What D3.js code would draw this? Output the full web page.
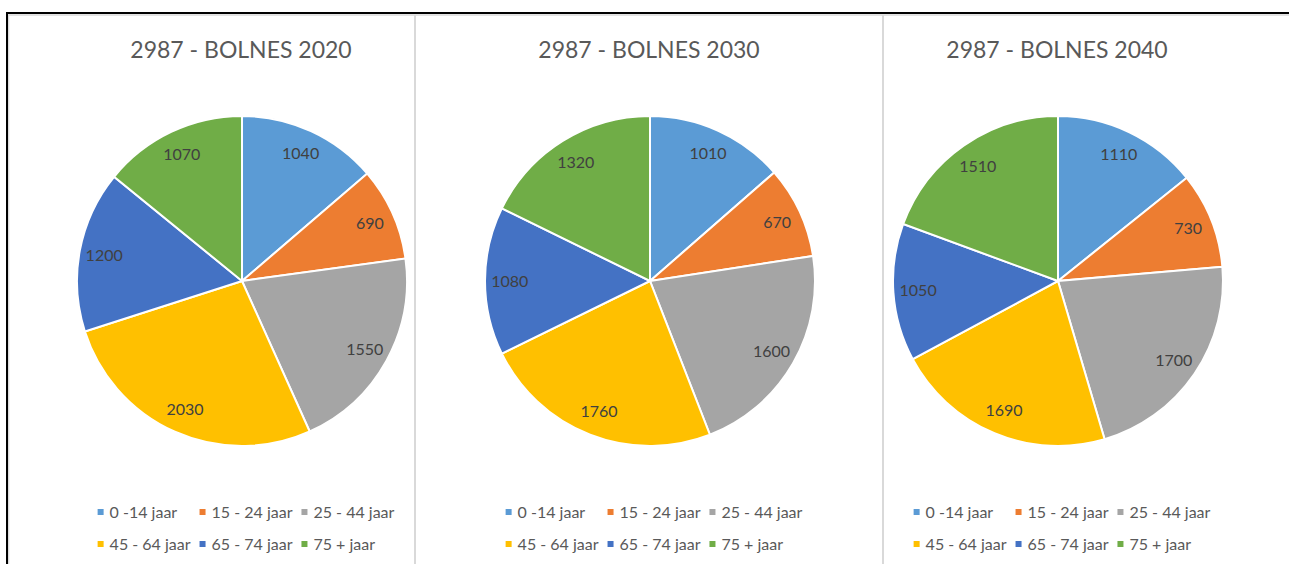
<!DOCTYPE html>
<html>
<head>
<meta charset="utf-8">
<script src="https://cdn.jsdelivr.net/npm/d3@7"></script>
<style>
  body { margin: 0; background: #fff; }
  svg { display: block; font-family: Lato, "Open Sans", sans-serif; }
</style>
</head>
<body>
<svg id="chart" width="1289" height="564"></svg>
<script>
const categories = ['0 -14 jaar', '15 - 24 jaar', '25 - 44 jaar', '45 - 64 jaar', '65 - 74 jaar', '75 + jaar'];
const titles = ['2987 - BOLNES 2020', '2987 - BOLNES 2030', '2987 - BOLNES 2040'];
const values2020 = [1040, 690, 1550, 2030, 1200, 1070];
const values2030 = [1010, 670, 1600, 1760, 1080, 1320];
const values2040 = [1110, 730, 1700, 1690, 1050, 1510];
const colors = ['#5b9bd5', '#ed7d31', '#a5a5a5', '#ffc000', '#4472c4', '#70ad47'];

const series = [values2020, values2030, values2040];

const width = 1289, height = 564;
const radius = 165;
const svg = d3.select('#chart');

// panel centres along x
const x = d3.scalePoint()
  .domain(titles)
  .range([242, 1058]);

const color = d3.scaleOrdinal()
  .domain(categories)
  .range(colors);

// frame lines (sheet borders / panel separators)
svg.append('line').attr('x1', 6).attr('x2', width).attr('y1', 13).attr('y2', 13)
  .attr('stroke', '#000').attr('stroke-width', 2);
svg.append('line').attr('x1', 8).attr('x2', width).attr('y1', 15).attr('y2', 15)
  .attr('stroke', '#d9d9d9').attr('stroke-width', 1.5);
svg.append('line').attr('x1', 7).attr('x2', 7).attr('y1', 12).attr('y2', height)
  .attr('stroke', '#000').attr('stroke-width', 2);
svg.append('line').attr('x1', 8.7).attr('x2', 8.7).attr('y1', 15).attr('y2', height)
  .attr('stroke', '#d9d9d9').attr('stroke-width', 1.2);
[415, 883].forEach(sx => {
  svg.append('line').attr('x1', sx).attr('x2', sx).attr('y1', 15).attr('y2', height)
    .attr('stroke', '#d9d9d9').attr('stroke-width', 2);
});

const pie = d3.pie().sort(null).value(d => d);
const arc = d3.arc().innerRadius(0).outerRadius(radius);
const labelArc = d3.arc().innerRadius(radius * 0.85).outerRadius(radius * 0.85);

titles.forEach((title, p) => {
  const cx = x(title), cy = 281;
  const g = svg.append('g');

  g.append('text')
    .attr('x', cx - 1)
    .attr('y', 58)
    .attr('text-anchor', 'middle')
    .attr('fill', '#595959')
    .style('font-size', '23px')
    .text(title);

  const pg = g.append('g').attr('transform', `translate(${cx},${cy})`);
  const arcs = pie(series[p]);

  pg.selectAll('path')
    .data(arcs)
    .enter()
    .append('path')
    .attr('d', arc)
    .attr('fill', (d, i) => color(categories[i]))
    .attr('stroke', '#fff')
    .attr('stroke-width', 2);

  pg.selectAll('text')
    .data(arcs)
    .enter()
    .append('text')
    .attr('transform', d => `translate(${labelArc.centroid(d)})`)
    .attr('text-anchor', 'middle')
    .attr('dy', '0.35em')
    .attr('fill', '#404040')
    .style('font-size', '16px')
    .text(d => d.data);

  // legend: 3 columns x 2 rows
  const lg = g.append('g');
  const items = lg.selectAll('g')
    .data(categories)
    .enter()
    .append('g');
  items.append('rect')
    .attr('width', 6).attr('height', 6)
    .attr('y', -3)
    .attr('fill', d => color(d));
  items.append('text')
    .attr('x', 12)
    .attr('dy', '0.35em')
    .attr('fill', '#595959')
    .style('font-size', '16px')
    .text(d => d);

  const widths = [];
  items.each(function(d, i) {
    widths[i] = d3.select(this).select('text').node().getComputedTextLength();
  });
  const colW = [0, 1, 2].map(c => Math.max(widths[c], widths[c + 3]) + 12 + 9);
  const total = colW[0] + colW[1] + colW[2] - 9;
  const startX = cx + 4 - total / 2;
  items.attr('transform', (d, i) => {
    const c = i % 3, r = Math.floor(i / 3);
    let ox = startX;
    for (let k = 0; k < c; k++) ox += colW[k];
    return `translate(${ox},${512 + r * 32})`;
  });
});
</script>
</body>
</html>
